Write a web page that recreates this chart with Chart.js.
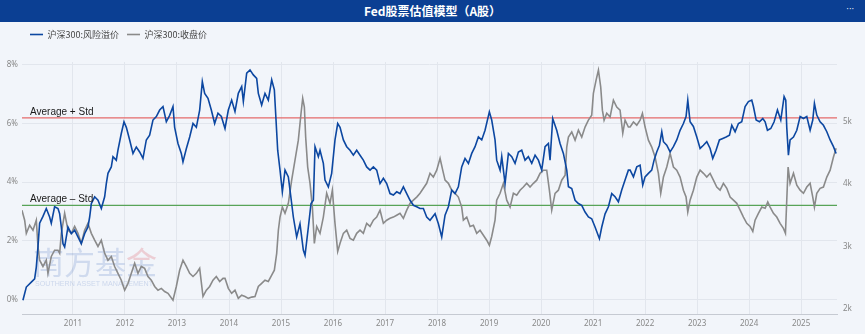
<!DOCTYPE html>
<html>
<head>
<meta charset="utf-8">
<script src="https://cdn.jsdelivr.net/npm/chart.js@4.4.1/dist/chart.umd.min.js"></script>
<style>
  html, body { margin: 0; padding: 0; width: 865px; height: 334px; overflow: hidden; background: #f2f5fa; font-family: "Noto Sans CJK SC", sans-serif; }
  #bar { position: relative; height: 22px; line-height: 22px; background: #0b3f93; color: #fff; text-align: center; font-size: 12px; font-weight: bold; }
  #bar span { position: absolute; right: 11px; top: -1px; font-family: "DejaVu Sans", sans-serif; font-size: 8px; font-weight: normal; letter-spacing: 0; }
  #wrap { position: relative; width: 865px; height: 312px; }
</style>
</head>
<body>
<div id="bar">Fed股票估值模型（A股）<span>···</span></div>
<div id="wrap"><canvas id="myChart"></canvas></div>
<script>
// 沪深300 风险溢价 (%), dates as decimal years
const riskDates = [
  2010.038,2010.103,2010.199,2010.263,2010.295,2010.327,2010.359,2010.423,2010.487,2010.551,2010.583,2010.647,2010.712,2010.744,2010.776,2010.808,2010.840,2010.904,2010.968,
  2011.032,2011.096,2011.160,2011.224,2011.288,2011.321,2011.353,2011.417,2011.481,2011.545,2011.609,2011.641,2011.673,2011.737,2011.769,2011.833,2011.865,2011.929,2011.981,
  2012.026,2012.090,2012.154,2012.218,2012.282,2012.346,2012.410,2012.474,2012.538,2012.603,2012.667,2012.731,2012.795,2012.859,2012.923,2012.955,
  2013.019,2013.083,2013.115,2013.179,2013.244,2013.308,2013.372,2013.436,2013.487,2013.532,2013.596,2013.660,2013.724,2013.788,2013.853,2013.923,2013.987,
  2014.051,2014.115,2014.179,2014.244,2014.276,2014.340,2014.404,2014.468,2014.532,2014.564,2014.628,2014.692,2014.756,2014.821,2014.872,2014.897,2014.936,2014.981,
  2015.026,2015.077,2015.141,2015.173,2015.237,2015.301,2015.365,2015.429,2015.462,2015.526,2015.577,2015.622,2015.654,2015.718,2015.750,2015.814,2015.846,2015.910,2015.974,
  2016.038,2016.090,2016.135,2016.199,2016.263,2016.327,2016.391,2016.455,2016.519,2016.583,2016.647,2016.712,2016.776,2016.840,2016.904,2016.968,
  2017.032,2017.096,2017.160,2017.224,2017.288,2017.353,2017.417,2017.481,2017.545,2017.609,2017.673,2017.737,2017.801,2017.865,2017.962,
  2018.026,2018.090,2018.154,2018.218,2018.282,2018.346,2018.410,2018.474,2018.538,2018.603,2018.667,2018.731,2018.795,2018.859,2018.923,
  2019.006,2019.051,2019.115,2019.147,2019.212,2019.244,2019.308,2019.372,2019.436,2019.500,2019.564,2019.628,2019.692,2019.756,2019.821,2019.885,2019.949,
  2020.013,2020.077,2020.141,2020.173,2020.224,2020.301,2020.365,2020.429,2020.494,2020.526,2020.590,2020.654,2020.718,2020.782,2020.846,2020.910,2020.974,
  2021.038,2021.122,2021.167,2021.231,2021.295,2021.359,2021.423,2021.487,2021.551,2021.615,2021.679,2021.712,2021.776,2021.840,2021.904,2021.955,
  2022.000,2022.064,2022.128,2022.173,2022.224,2022.276,2022.321,2022.353,2022.417,2022.481,2022.545,2022.609,2022.673,2022.737,2022.788,2022.821,2022.865,2022.929,2022.994,
  2023.058,2023.122,2023.186,2023.250,2023.301,2023.365,2023.429,2023.494,2023.558,2023.622,2023.667,2023.731,2023.795,2023.859,2023.923,2023.987,
  2024.051,2024.083,2024.135,2024.199,2024.263,2024.308,2024.353,2024.417,2024.481,2024.545,2024.609,2024.673,2024.705,2024.724,2024.756,2024.788,2024.853,2024.917,2024.981,
  2025.045,2025.109,2025.173,2025.224,2025.256,2025.301,2025.365,2025.429,2025.494,2025.558,2025.622,2025.673
];
const riskPremium = [
  -0.03,0.42,0.59,0.70,1.10,1.79,2.60,2.83,3.10,2.81,2.60,3.16,3.10,2.92,2.47,1.90,1.79,2.47,2.24,
  2.36,2.13,1.90,2.24,2.47,2.81,3.27,3.50,3.38,3.10,3.50,3.95,4.30,4.52,4.87,4.75,5.09,5.66,6.06,
  5.87,5.44,4.98,5.20,5.03,4.81,5.44,5.60,6.12,6.24,6.46,6.58,6.06,6.28,6.58,5.87,
  5.32,4.98,4.69,5.14,5.54,6.00,5.87,6.46,7.43,7.03,6.86,6.46,6.00,6.35,6.24,5.83,6.46,
  6.80,6.41,7.03,7.26,6.75,7.72,7.83,7.66,7.54,7.03,6.63,7.03,6.80,7.49,7.15,6.35,5.09,4.41,
  3.67,4.41,4.18,3.73,2.81,2.13,2.58,1.68,1.50,2.47,3.27,3.38,5.21,4.87,5.09,4.64,4.07,3.84,4.30,
  5.44,6.00,5.87,5.44,5.21,5.09,4.92,5.09,4.92,4.75,4.52,4.41,4.52,4.41,3.95,4.13,
  3.95,3.61,3.56,3.67,3.61,3.84,3.61,3.38,3.21,3.16,3.10,3.10,2.81,2.70,2.92,
  2.58,2.13,2.87,3.16,3.73,3.61,3.84,4.52,4.81,4.64,4.98,5.21,5.54,5.44,5.77,
  6.40,6.12,5.44,4.75,4.41,4.87,3.95,4.98,4.87,4.64,5.03,5.09,4.75,4.87,4.64,4.92,4.75,
  4.41,5.21,5.32,4.75,6.17,5.77,5.32,4.98,4.41,3.84,3.78,3.38,3.27,3.21,2.98,2.81,2.75,
  2.47,2.07,2.47,2.92,3.16,3.61,3.50,3.33,3.73,4.07,4.41,4.41,4.18,4.52,4.58,3.90,
  4.18,4.30,4.41,4.75,5.03,5.26,5.72,5.38,5.26,5.03,5.21,5.44,5.77,6.00,6.24,6.80,6.06,5.90,5.54,
  5.15,5.26,5.38,5.15,4.81,5.09,5.44,5.49,5.54,5.60,5.94,5.72,6.00,6.06,6.58,6.75,
  6.80,6.58,6.12,6.06,6.17,6.06,5.77,5.83,6.06,6.46,6.12,6.92,6.80,5.87,4.92,5.44,5.54,5.77,6.24,
  6.17,6.24,5.77,6.12,6.69,6.29,6.06,5.94,5.72,5.44,5.21,4.98
];

// 沪深300 收盘价 (points)
const closeDates = [
  2010.019,2010.071,2010.103,2010.167,2010.231,2010.295,2010.327,2010.359,2010.423,2010.487,2010.519,2010.583,2010.647,2010.712,2010.744,2010.776,2010.840,2010.904,2010.968,
  2011.032,2011.096,2011.160,2011.224,2011.288,2011.353,2011.417,2011.481,2011.545,2011.609,2011.673,2011.737,2011.801,2011.865,2011.929,2011.994,
  2012.058,2012.122,2012.186,2012.250,2012.314,2012.378,2012.442,2012.506,2012.571,2012.635,2012.699,2012.763,2012.827,2012.923,2012.987,
  2013.051,2013.115,2013.179,2013.244,2013.308,2013.372,2013.436,2013.500,2013.564,2013.628,2013.692,2013.756,2013.821,2013.885,2013.923,2013.987,
  2014.051,2014.115,2014.179,2014.244,2014.308,2014.372,2014.436,2014.500,2014.564,2014.628,2014.692,2014.756,2014.821,2014.872,2014.917,2014.949,2014.981,
  2015.026,2015.077,2015.141,2015.205,2015.269,2015.333,2015.385,2015.417,2015.449,2015.474,2015.513,2015.558,2015.603,2015.641,2015.686,2015.750,2015.814,2015.878,2015.942,2015.987,
  2016.038,2016.090,2016.135,2016.199,2016.263,2016.327,2016.391,2016.455,2016.519,2016.583,2016.647,2016.712,2016.776,2016.840,2016.904,2016.968,
  2017.032,2017.096,2017.160,2017.224,2017.288,2017.353,2017.417,2017.481,2017.545,2017.609,2017.673,2017.737,2017.801,2017.865,2017.929,2017.994,
  2018.058,2018.109,2018.154,2018.218,2018.282,2018.346,2018.410,2018.474,2018.506,2018.571,2018.635,2018.699,2018.763,2018.827,2018.891,2018.955,
  2019.006,2019.051,2019.115,2019.147,2019.212,2019.276,2019.340,2019.404,2019.468,2019.532,2019.596,2019.660,2019.724,2019.788,2019.853,2019.917,2019.981,
  2020.045,2020.109,2020.160,2020.205,2020.269,2020.333,2020.397,2020.462,2020.494,2020.526,2020.590,2020.654,2020.718,2020.782,2020.846,2020.910,2020.974,
  2021.006,2021.058,2021.103,2021.147,2021.179,2021.212,2021.263,2021.327,2021.391,2021.455,2021.519,2021.571,2021.615,2021.679,2021.712,2021.776,2021.840,2021.904,2021.949,
  2022.000,2022.064,2022.128,2022.192,2022.256,2022.301,2022.353,2022.417,2022.481,2022.545,2022.609,2022.673,2022.737,2022.788,2022.821,2022.865,2022.929,2022.994,
  2023.058,2023.122,2023.186,2023.250,2023.314,2023.378,2023.442,2023.506,2023.571,2023.635,2023.699,2023.763,2023.827,2023.891,2023.955,
  2024.019,2024.071,2024.115,2024.179,2024.244,2024.308,2024.359,2024.404,2024.468,2024.532,2024.596,2024.660,2024.699,2024.724,2024.750,2024.788,2024.853,2024.917,2024.981,
  2025.045,2025.109,2025.173,2025.224,2025.256,2025.301,2025.365,2025.429,2025.494,2025.558,2025.622,2025.673
];
const closePrice = [
  3580,3420,3210,3340,3260,3420,3000,2780,2680,2780,2570,2840,2940,2940,2890,3210,3530,3260,3210,
  3320,3210,3050,3260,3370,3210,3100,3000,3100,2890,2780,2840,2680,2570,2460,2300,
  2410,2570,2730,2570,2680,2650,2520,2460,2360,2300,2330,2280,2250,2140,2360,
  2620,2780,2680,2570,2520,2570,2650,2200,2300,2360,2460,2520,2440,2490,2490,2330,
  2250,2300,2170,2220,2200,2170,2190,2200,2360,2410,2460,2440,2540,2620,2890,3260,3470,
  3630,3530,3690,4060,4380,4700,5130,5370,5230,4750,4270,4010,3630,3050,3320,3210,3470,3850,3690,3900,
  3370,2920,3050,3210,3260,3130,3100,3210,3260,3210,3370,3320,3420,3470,3580,3370,
  3420,3450,3470,3500,3530,3450,3580,3690,3740,3790,3850,3930,4010,4170,4110,4220,
  4410,4220,4060,4010,3900,3850,3790,3630,3420,3470,3320,3340,3210,3260,3180,3100,
  3020,3160,3420,3740,3850,4010,3740,3630,3850,3820,3900,3950,4010,3950,4010,4060,4170,
  4220,4220,3900,3580,3850,3900,4060,4140,4590,4750,4830,4700,4860,4750,4910,5020,5100,
  5450,5660,5820,5550,5180,5020,5130,5070,5340,5230,5180,4810,5020,4910,4910,4990,4940,5020,5130,
  4910,4700,4590,4430,4170,3850,4110,4270,4490,4270,4220,4110,3900,3790,3550,3740,3900,4110,
  4220,4170,4110,4170,4060,3950,3900,4010,3930,3790,3740,3690,3580,3470,3370,
  3320,3240,3420,3530,3630,3610,3710,3630,3530,3470,3370,3290,3210,3740,4270,4010,4170,3980,3900,
  3850,3950,4010,3790,3630,3850,3930,3950,4110,4220,4430,4570
];

const yearTicks = [2011,2012,2013,2014,2015,2016,2017,2018,2019,2020,2021,2022,2023,2024,2025];
const pctTicks = [0, 2, 4, 6, 8];
const priceTicks = [2000, 3000, 4000, 5000];
const avgPlusStd = 6.19;
const avgMinusStd = 3.21;
const xMin = 2010.02, xMax = 2025.69;

function pairs(xs, ys) {
    return xs.map((x, i) => ({x: x, y: ys[i]}));
}

const overlay = {
    id: "overlay",
    beforeInit(chart) {
        const fit = chart.legend.fit;
        chart.legend.fit = function () {
            fit.call(this);
            this.height = 40;
        };
    },
    beforeDatasetsDraw(chart) {
        // watermark
        const c = chart.ctx;
        c.save();
        c.font = '31px "Noto Sans CJK SC"';
        c.textBaseline = "alphabetic";
        c.fillStyle = "rgba(70,110,190,0.2)";
        c.fillText("南方基", 33, 252);
        const w = c.measureText("南方基").width;
        const g = c.createLinearGradient(0, 226, 0, 254);
        g.addColorStop(0, "rgba(220,90,100,0.25)");
        g.addColorStop(0.42, "rgba(220,90,100,0.25)");
        g.addColorStop(0.43, "rgba(70,110,190,0.2)");
        g.addColorStop(1, "rgba(70,110,190,0.2)");
        c.fillStyle = g;
        c.fillText("金", 33 + w, 252);
        c.font = '8px "Liberation Sans"';
        c.fillStyle = "rgba(70,110,190,0.22)";
        c.fillText("SOUTHERN ASSET MANAGEMENT", 35, 264, 118);
        c.restore();
    },
    afterDatasetsDraw(chart) {
        const c = chart.ctx;
        const y = chart.scales.y;
        const left = chart.chartArea.left + 8;
        c.save();
        c.font = '10px "Liberation Sans"';
        c.fillStyle = "#1a1a1a";
        c.textBaseline = "alphabetic";
        c.fillText("Average + Std", left, y.getPixelForValue(avgPlusStd) - 3);
        c.fillText("Average – Std", left, y.getPixelForValue(avgMinusStd) - 3);
        c.restore();
    }
};

document.addEventListener("DOMContentLoaded", function () {
    const ctx = document.getElementById("myChart");
    const tickFont = {family: '"Noto Sans", sans-serif', size: 8};
    new Chart(ctx, {
        type: "line",
        data: {
            datasets: [
                {
                    label: "沪深300:风险溢价",
                    data: pairs(riskDates, riskPremium),
                    borderColor: "#0c47a1",
                    backgroundColor: "#0c47a1",
                    borderWidth: 1.6,
                    pointRadius: 0,
                    yAxisID: "y"
                },
                {
                    label: "沪深300:收盘价",
                    data: pairs(closeDates, closePrice),
                    borderColor: "#8a8a8a",
                    backgroundColor: "#8a8a8a",
                    borderWidth: 1.6,
                    pointRadius: 0,
                    yAxisID: "y1"
                },
                {
                    label: "Average + Std",
                    data: [{x: xMin, y: avgPlusStd}, {x: xMax, y: avgPlusStd}],
                    borderColor: "#e46a6a",
                    borderWidth: 1.2,
                    pointRadius: 0,
                    yAxisID: "y"
                },
                {
                    label: "Average - Std",
                    data: [{x: xMin, y: avgMinusStd}, {x: xMax, y: avgMinusStd}],
                    borderColor: "#58a458",
                    borderWidth: 1.2,
                    pointRadius: 0,
                    yAxisID: "y"
                }
            ]
        },
        options: {
            responsive: true,
            maintainAspectRatio: false,
            animation: false,
            devicePixelRatio: 1,
            layout: {padding: 0},
            plugins: {
                legend: {
                    position: "top",
                    align: "start",
                    fullSize: false,
                    labels: {
                        usePointStyle: true,
                        pointStyle: "line",
                        pointStyleWidth: 13,
                        boxHeight: 9,
                        padding: 8,
                        color: "#444",
                        font: {family: '"Noto Sans CJK SC"', size: 9},
                        filter: item => item.datasetIndex < 2
                    }
                },
                tooltip: {enabled: false}
            },
            scales: {
                x: {
                    type: "linear",
                    min: xMin,
                    max: xMax,
                    afterBuildTicks: a => { a.ticks = yearTicks.map(v => ({value: v})); },
                    afterFit: s => { s.height = 20; },
                    ticks: {font: tickFont, color: "#888", padding: 5, maxRotation: 0, autoSkip: false, callback: v => String(v)},
                    grid: {color: "#e2e6ed", drawTicks: false},
                    border: {color: "#c6cad2"}
                },
                y: {
                    position: "left",
                    min: -0.5,
                    max: 8.1,
                    afterBuildTicks: a => { a.ticks = pctTicks.map(v => ({value: v})); },
                    afterFit: s => { s.width = 22; },
                    ticks: {font: tickFont, color: "#888", padding: 4, callback: v => v + "%"},
                    grid: {color: "#e2e6ed", drawTicks: false},
                    border: {display: false}
                },
                y1: {
                    position: "right",
                    min: 1920,
                    max: 5950,
                    afterBuildTicks: a => { a.ticks = priceTicks.map(v => ({value: v})); },
                    afterFit: s => { s.width = 28; },
                    ticks: {font: tickFont, color: "#888", padding: 6, callback: v => (v / 1000) + "k"},
                    grid: {display: false, drawTicks: false},
                    border: {display: false}
                }
            }
        },
        plugins: [overlay]
    });
});
</script>
</body>
</html>
